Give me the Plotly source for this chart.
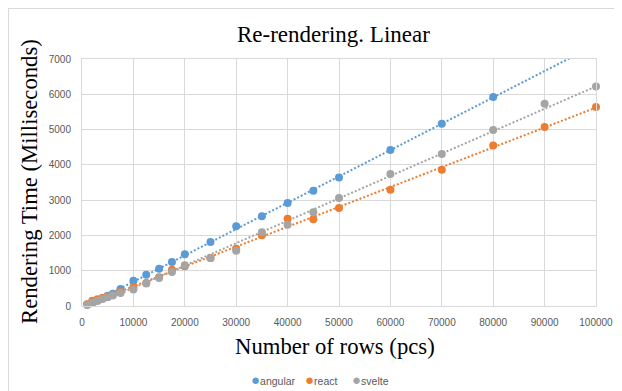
import numpy as np
import plotly.graph_objects as go

rows = [1000, 2000, 3000, 4000, 5000, 6000, 7500, 10000, 12500, 15000, 17500, 20000,
        25000, 30000, 35000, 40000, 45000, 50000, 60000, 70000, 80000, 90000, 100000]

angular = [40, 90, 150, 230, 290, 350, 480, 717, 887, 1057, 1250, 1470,
           1813, 2257, 2541, 2918, 3267, 3645, 4419, 5164, 5921, None, None]
react = [50, 150, 190, 230, 270, 320, 400, 530, 652, 813, 1028, 1124,
         1360, 1624, 2003, 2473, 2456, 2776, 3296, 3862, 4552, 5071, 5637]
svelte = [30, 100, 150, 200, 250, 300, 370, 470, 640, 790, 963, 1152,
          1360, 1567, 2088, 2303, 2654, 3059, 3739, 4306, 4986, 5731, 6224]

series_names = ["angular", "react", "svelte"]
series_values = [angular, react, svelte]
colors = ["#5B9BD5", "#ED7D31", "#A5A5A5"]

x_ticks = list(range(0, 100001, 10000))
y_ticks = list(range(0, 7001, 1000))

title_text = "Re-rendering. Linear"
x_title = "Number of rows (pcs)"
y_title = "Rendering Time (Milliseconds)"

W, H = 622, 391
L, R, T, B = 74, 34, 51, 93
pw, ph = W - L - R, H - T - B

fig = go.Figure()

# linear trendlines (least squares on each series)
for name, vals, c in zip(series_names, series_values, colors):
    xs = np.array([x for x, v in zip(rows, vals) if v is not None], dtype=float)
    ys = np.array([v for v in vals if v is not None], dtype=float)
    k, b = np.polyfit(xs, ys, 1)
    tx = np.array([rows[0], x_ticks[-1]], dtype=float)
    fig.add_trace(go.Scatter(x=tx, y=k * tx + b, mode="lines",
                             line=dict(color=c, width=2, dash="2px,2px"),
                             showlegend=False, hoverinfo="skip"))

for name, vals, c in zip(series_names, series_values, colors):
    fig.add_trace(go.Scatter(x=rows, y=vals, mode="markers", name=name,
                             marker=dict(color=c, size=8),
                             cliponaxis=False, showlegend=False))

tick_font = dict(family="Liberation Sans, Arial, sans-serif", size=10, color="#595959")
serif = "Liberation Serif, Times New Roman, serif"

fig.update_xaxes(range=[0, 100000], tickvals=x_ticks, ticktext=[str(v) for v in x_ticks],
                 showgrid=True, gridcolor="#D9D9D9", gridwidth=1, zeroline=False,
                 showline=True, linecolor="#D9D9D9", mirror=True,
                 tickfont=tick_font, ticklabelstandoff=7)
fig.update_yaxes(range=[0, 7000], tickvals=y_ticks, ticktext=[str(v) for v in y_ticks],
                 showgrid=True, gridcolor="#D9D9D9", gridwidth=1, zeroline=False,
                 showline=True, linecolor="#D9D9D9", mirror=True,
                 tickfont=tick_font, ticklabelstandoff=8)

def px_x(p):
    return (p - L) / pw

def px_y(p):
    return (H - B - p) / ph

annotations = [
    dict(text=title_text, x=px_x(325), y=px_y(26), xref="paper", yref="paper",
         xanchor="center", yanchor="middle", showarrow=False,
         font=dict(family=serif, size=23, color="black")),
    dict(text=x_title, x=px_x(327), y=px_y(338), xref="paper", yref="paper",
         xanchor="center", yanchor="middle", showarrow=False,
         font=dict(family=serif, size=22.7, color="black")),
    dict(text=y_title, x=px_x(21), y=px_y(174), xref="paper", yref="paper",
         xanchor="center", yanchor="middle", showarrow=False, textangle=-90,
         font=dict(family=serif, size=22.7, color="black")),
]

# legend entries (marker glyph + name)
legend_x = [241, 295, 342]
for name, c, lx in zip(series_names, colors, legend_x):
    annotations.append(dict(
        text=f"<span style='color:{c};font-size:15px'>●</span>{name}",
        x=px_x(lx), y=px_y(371), xref="paper", yref="paper",
        xanchor="left", yanchor="middle", showarrow=False,
        font=dict(family="Liberation Sans, Arial, sans-serif", size=10.5, color="#595959")))

shapes = [dict(type="rect", xref="paper", yref="paper",
               x0=px_x(0.5), x1=px_x(W - 0.5), y0=px_y(H - 0.5), y1=px_y(0.5),
               line=dict(color="#D9D9D9", width=1), fillcolor="rgba(0,0,0,0)", layer="below")]

fig.update_layout(width=W, height=H, margin=dict(l=L, r=R, t=T, b=B, autoexpand=False),
                  paper_bgcolor="white", plot_bgcolor="white",
                  annotations=annotations, shapes=shapes, showlegend=False)

fig.write_html("out.html")
